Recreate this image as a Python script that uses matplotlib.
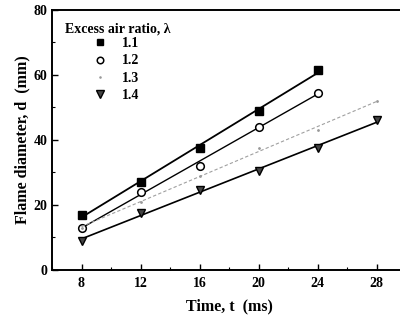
import numpy as np
import matplotlib
matplotlib.use('Agg')
import matplotlib.pyplot as plt
from matplotlib.ticker import MultipleLocator

# Flame diameter vs time for different excess air ratios
t_11 = [8, 12, 16, 20, 24]
d_11 = [17, 27, 37.5, 49, 61.5]
t_12 = [8, 12, 16, 20, 24]
d_12 = [13, 24, 32, 44, 54.5]
t_13 = [8, 12, 16, 20, 24, 28]
d_13 = [13, 21, 29, 37.5, 43, 52]
t_14 = [8, 12, 16, 20, 24, 28]
d_14 = [9, 17.5, 24.5, 30.5, 37.5, 46]
labels = ['1.1', '1.2', '1.3', '1.4']

plt.rcParams['font.family'] = ['Liberation Serif', 'DejaVu Serif']
plt.rcParams['font.weight'] = 'bold'

fig = plt.figure(figsize=(4.0, 3.22), dpi=100, facecolor='white')
ax = fig.add_axes([0.13, 0.1615, 0.885, 0.8075])

def fit_line(t, d):
    p = np.polyfit(t, d, 1)
    x = np.array([t[0], t[-1]])
    return x, np.polyval(p, x)

x, y = fit_line(t_11, d_11)
ax.plot(x, y, color='black', lw=1.3)
ax.plot(t_11, d_11, 's', color='black', ms=5.5, label=labels[0])

x, y = fit_line(t_12, d_12)
ax.plot(x, y, color='black', lw=1.0)
ax.plot(t_12, d_12, 'o', mfc='white', mec='black', mew=1.1, ms=5.5, label=labels[1])

x, y = fit_line(t_13, d_13)
ax.plot(x, y, color='#a0a0a0', lw=0.8, ls=(0, (3, 2)))
ax.plot(t_13, d_13, '.', color='#999999', ms=2, label=labels[2])

x, y = fit_line(t_14, d_14)
ax.plot(x, y, color='black', lw=1.2)
ax.plot(t_14, d_14, 'v', mfc='#444444', mec='black', mew=1.0, ms=6, label=labels[3])

ax.set_xlim(6, 30)
ax.set_ylim(0, 80)
ax.set_xticks([8, 12, 16, 20, 24, 28])
ax.set_yticks([0, 20, 40, 60, 80])
ax.xaxis.set_minor_locator(MultipleLocator(2))
ax.yaxis.set_minor_locator(MultipleLocator(10))
ax.tick_params(which='both', direction='in', labelsize=10)
ax.tick_params(which='major', length=4, width=1)
ax.tick_params(which='minor', length=2, width=0.8)
ax.tick_params(axis='x', pad=5)
for lab in ax.get_xticklabels() + ax.get_yticklabels():
    lab.set_fontweight('bold')
for s in ax.spines.values():
    s.set_linewidth(1.4)

ax.set_xlabel('Time, t  (ms)', fontsize=11.5, fontweight='bold', labelpad=6)
ax.set_ylabel('Flame diameter, d  (mm)', fontsize=11.5, fontweight='bold', labelpad=2)

ax.text(0.037, 0.928, 'Excess air ratio, \u03bb', transform=ax.transAxes,
        fontsize=10, fontweight='bold', va='center', ha='left')
leg = ax.legend(loc='upper left', frameon=False, fontsize=10, markerscale=0.85,
                handlelength=1.0, handletextpad=1.1, labelspacing=0.3,
                bbox_to_anchor=(0.116, 0.895), borderaxespad=0.0, borderpad=0.0)

plt.savefig('out.png', dpi=100, facecolor='white')
